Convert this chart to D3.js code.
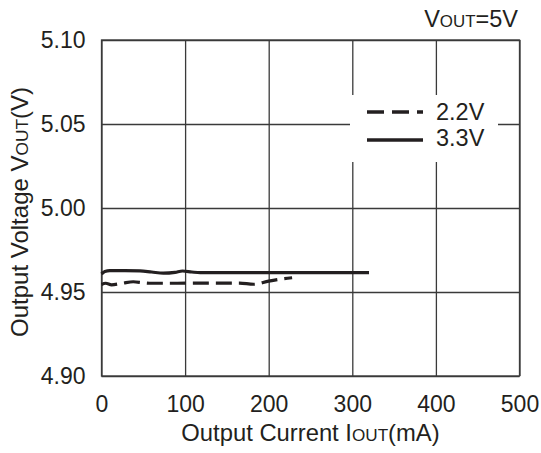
<!DOCTYPE html>
<html>
<head>
<meta charset="utf-8">
<script src="https://cdn.jsdelivr.net/npm/d3@7"></script>
<style>
  html, body { margin: 0; padding: 0; background: #fff; }
  svg { display: block; }
  .grid line { stroke: #3a3a3a; stroke-width: 1.3; }
  .grid .domain { display: none; }
</style>
</head>
<body>
<svg id="chart"></svg>
<script>
const margin = {top: 40, right: 21.5, bottom: 77, left: 101.5};
const chartWidth = 541;
const chartHeight = 453;
const innerWidth = chartWidth - margin.left - margin.right;
const innerHeight = chartHeight - margin.top - margin.bottom;

const FONT = "Liberation Sans, Arial, sans-serif";
const INK = "#231f20";

// x ticks (mA) and y ticks (V)
const xTicks = [0, 100, 200, 300, 400, 500];
const yTicks = [4.90, 4.95, 5.00, 5.05, 5.10];

// 3.3V input (solid)
const current33 = [0, 4, 10, 28, 46, 60, 74, 88, 97, 108, 118, 160, 220, 280, 320];
const volt33 = [4.9607, 4.9622, 4.9627, 4.9627, 4.9626, 4.9619, 4.9612, 4.9617, 4.9625, 4.9619, 4.9615, 4.9615, 4.9615, 4.9615, 4.9615];

// 2.2V input (dashed)
const current22 = [0, 5, 12, 25, 38, 50, 60, 90, 120, 150, 165, 182, 200, 213, 228];
const volt22 = [4.9545, 4.9552, 4.9543, 4.9552, 4.9561, 4.9555, 4.9552, 4.9552, 4.9553, 4.9553, 4.9553, 4.9546, 4.9565, 4.9576, 4.9585];

const legendLabels = ["2.2V", "3.3V"];
const legendDash = ["17,8", null];

const svg = d3.select("#chart")
    .attr("width", chartWidth)
    .attr("height", chartHeight)
    .attr("viewBox", `0 0 ${chartWidth} ${chartHeight}`)
    .attr("font-family", FONT);
const g = svg.append("g")
    .attr("transform", `translate(${margin.left}, ${margin.top})`);

const xScale = d3.scaleLinear().domain([0, 500]).range([0, innerWidth]);
const yScale = d3.scaleLinear().domain([4.90, 5.10]).range([innerHeight, 0]);

// grid + tick labels
g.append("g")
    .attr("class", "grid")
    .attr("transform", `translate(0,${innerHeight})`)
    .call(d3.axisBottom(xScale).tickValues(xTicks).tickSize(-innerHeight).tickPadding(20).tickFormat(d3.format("d")))
    .attr("font-size", 23)
    .attr("font-family", FONT)
    .selectAll("text").attr("fill", INK);

g.append("g")
    .attr("class", "grid")
    .call(d3.axisLeft(yScale).tickValues(yTicks).tickSize(-innerWidth).tickPadding(16).tickFormat(d3.format(".2f")))
    .attr("font-size", 23)
    .attr("font-family", FONT)
    .selectAll("text").attr("fill", INK);

g.append("rect")
    .attr("width", innerWidth)
    .attr("height", innerHeight)
    .attr("fill", "none")
    .attr("stroke", "#3a3a3a")
    .attr("stroke-width", 1.3);

const line = d3.line()
    .x(d => xScale(d[0]))
    .y(d => yScale(d[1]))
    .curve(d3.curveMonotoneX);

g.append("path")
    .datum(d3.zip(current33, volt33))
    .attr("fill", "none")
    .attr("stroke", INK)
    .attr("stroke-width", 3.2)
    .attr("d", line);

g.append("path")
    .datum(d3.zip(current22, volt22))
    .attr("fill", "none")
    .attr("stroke", INK)
    .attr("stroke-width", 3.2)
    .attr("stroke-dasharray", "16,7")
    .attr("d", line);

// legend
const legend = svg.append("g").attr("transform", "translate(350,95)");
legend.append("rect")
    .attr("width", 148)
    .attr("height", 67)
    .attr("fill", "#fff");
legendLabels.forEach((lab, i) => {
    const ly = 17 + i * 28;
    legend.append("line")
        .attr("x1", 17).attr("x2", 73)
        .attr("y1", ly).attr("y2", ly)
        .attr("stroke", INK)
        .attr("stroke-width", 3.4)
        .attr("stroke-dasharray", legendDash[i]);
    legend.append("text")
        .attr("x", 86)
        .attr("y", ly + 7.5 - i * 2)
        .attr("font-size", 23.5)
        .attr("fill", INK)
        .text(lab);
});

// titles with small "OUT" caps
function subText(sel, parts, size) {
    sel.attr("font-size", size).attr("fill", INK);
    parts.forEach(p => {
        sel.append("tspan")
            .attr("font-size", p[1] ? size * 0.72 : size)
            .text(p[0]);
    });
}

const vout = svg.append("text")
    .attr("x", 518)
    .attr("y", 27)
    .attr("text-anchor", "end");
subText(vout, [["V", false], ["OUT", true], ["=5V", false]], 23.5);

const xTitle = svg.append("text")
    .attr("x", margin.left + innerWidth / 2)
    .attr("y", 441)
    .attr("text-anchor", "middle");
subText(xTitle, [["Output Current I", false], ["OUT", true], ["(mA)", false]], 23.8);

const yTitle = svg.append("text")
    .attr("transform", `translate(27.5, ${margin.top + innerHeight / 2 + 4}) rotate(-90)`)
    .attr("text-anchor", "middle");
subText(yTitle, [["Output Voltage V", false], ["OUT", true], ["(V)", false]], 24);
</script>
</body>
</html>
